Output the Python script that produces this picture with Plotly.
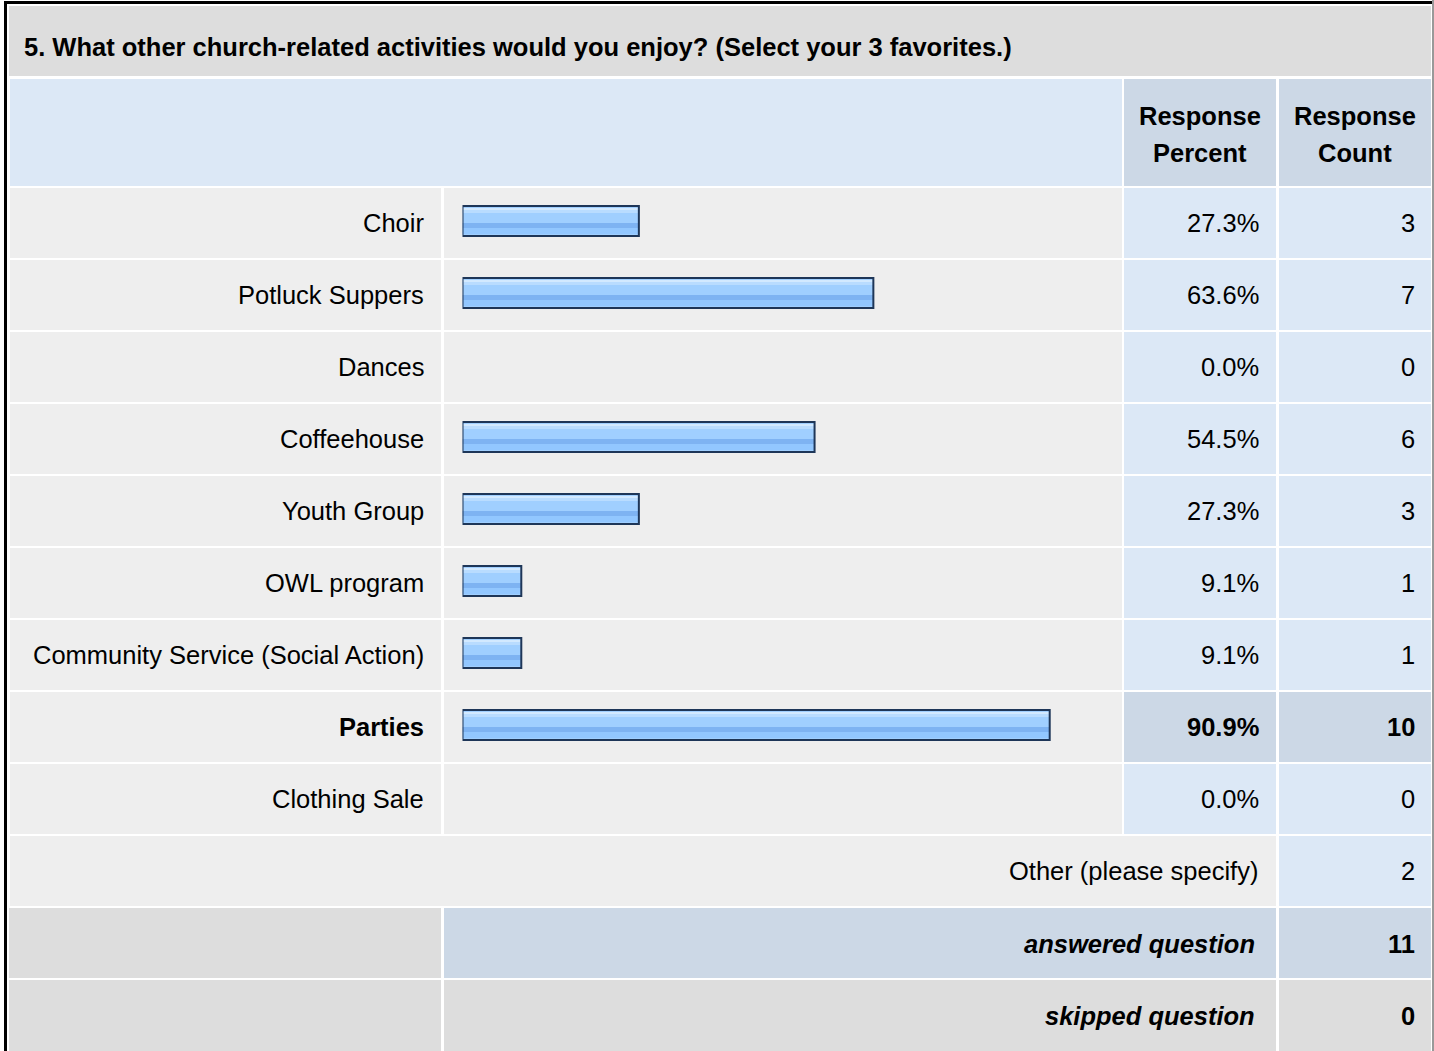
import plotly.graph_objects as go

# ---------------- data ----------------
title_text = "5. What other church-related activities would you enjoy? (Select your 3 favorites.)"
header_percent = ["Response", "Percent"]
header_count = ["Response", "Count"]
categories = ["Choir", "Potluck Suppers", "Dances", "Coffeehouse", "Youth Group",
              "OWL program", "Community Service (Social Action)", "Parties", "Clothing Sale"]
percents = [27.3, 63.6, 0.0, 54.5, 27.3, 9.1, 9.1, 90.9, 0.0]
counts = [3, 7, 0, 6, 3, 1, 1, 10, 0]
other_label = "Other (please specify)"
other_count = 2
answered_label = "answered question"
answered_count = 11
skipped_label = "skipped question"
skipped_count = 0

# ---------------- geometry (pixels) ----------------
W, H = 1434, 1051
FONT = "Arial, 'Liberation Sans', sans-serif"
FS = 25.5
C_TITLE = "#DDDDDD"
C_LBLUE = "#DCE8F6"
C_DBLUE = "#CCD8E6"
C_GREY = "#EEEEEE"
C_DGREY = "#DDDDDD"
PAD = 2  # annotation inner padding compensation

max_idx = percents.index(max(percents))


def px(x):
    return x / W


def py(y):
    return 1 - y / H


shapes = []


def rect(x0, y0, x1, y1, color):
    shapes.append(dict(type="rect", xref="paper", yref="paper",
                       x0=px(x0), x1=px(x1), y0=py(y1), y1=py(y0),
                       fillcolor=color, line=dict(width=0), layer="below"))


# outer borders
rect(4, 1, 1432, 4, "#000000")
rect(4, 1, 7, H, "#000000")
rect(1432, 0, 1434, H, "#999999")

# title row
rect(9, 6, 1431, 76, C_TITLE)
# header row
rect(10, 79, 1122, 186, C_LBLUE)
rect(1124, 79, 1276, 186, C_DBLUE)
rect(1279, 79, 1431, 186, C_DBLUE)

ROW0, PITCH, RH = 188, 72, 70
for i in range(len(categories)):
    t = ROW0 + PITCH * i
    b = t + RH
    rect(10, t, 441, b, C_GREY)
    rect(444, t, 1122, b, C_GREY)
    hl = (i == max_idx)
    rect(1124, t, 1276, b, C_DBLUE if hl else C_LBLUE)
    rect(1279, t, 1431, b, C_DBLUE if hl else C_LBLUE)

# other row
i = len(categories)
t = ROW0 + PITCH * i
rect(10, t, 1276, t + RH, C_GREY)
rect(1279, t, 1431, t + RH, C_LBLUE)
# answered row
t = ROW0 + PITCH * (i + 1)
rect(9, t, 441, t + RH, C_DGREY)
rect(444, t, 1276, t + RH, C_DBLUE)
rect(1279, t, 1431, t + RH, C_DBLUE)
# skipped row
t = ROW0 + PITCH * (i + 2)
rect(9, t, 441, H, C_DGREY)
rect(444, t, 1276, H, C_DGREY)
rect(1279, t, 1431, H, C_DGREY)

# ---------------- annotations ----------------
annotations = []


def txt(x, y, s, anchor="right", bold=False, italic=False, size=FS):
    if anchor == "right":
        x += PAD
    elif anchor == "left":
        x -= PAD
    annotations.append(dict(x=px(x), y=py(y), xref="paper", yref="paper", text=s,
                            showarrow=False, xanchor=anchor, yanchor="middle",
                            align="center" if anchor == "center" else anchor,
                            font=dict(family=FONT, size=size, color="#000000",
                                      weight="bold" if bold else "normal",
                                      style="italic" if italic else "normal")))


txt(24, 47, title_text, anchor="left", bold=True)
for k, line in enumerate(header_percent):
    txt(1200, 116 + 37 * k, line, anchor="center", bold=True)
for k, line in enumerate(header_count):
    txt(1355, 116 + 37 * k, line, anchor="center", bold=True)

for i, (c, p, n) in enumerate(zip(categories, percents, counts)):
    yc = ROW0 + PITCH * i + 35
    hl = (i == max_idx)
    txt(424, yc, c, bold=hl)
    txt(1259, yc, f"{p:.1f}%", bold=hl)
    txt(1415, yc, str(n), bold=hl)

yc = ROW0 + PITCH * len(categories) + 35
txt(1258, yc, other_label)
txt(1415, yc, str(other_count))
yc += PITCH + 1
txt(1255, yc, answered_label, bold=True, italic=True)
txt(1415, yc, str(answered_count), bold=True)
yc += PITCH
txt(1255, yc, skipped_label, bold=True, italic=True)
txt(1415, yc, str(skipped_count), bold=True)

# ---------------- bars ----------------
rows = list(range(len(categories)))
bar_vals = [p if p > 0 else None for p in percents]
U = 1 / PITCH  # one pixel in row units

fig = go.Figure()
layers = [  # (offset px from row centre, height px, fill colour, outline)
    (-17, 30, "#A0CFFF", False),
    (-15, 2, "#D2E9FF", False),
    (-13, 3, "#B9DCFF", False),
    (0, 5, "#7EB3F2", False),
    (5, 6, "#92C7FF", False),
    (-17, 30, "rgba(0,0,0,0)", True),
]
for off, hgt, col, outline in layers:
    fig.add_trace(go.Bar(
        y=rows, x=bar_vals, orientation="h",
        offset=off * U, width=hgt * U,
        marker=dict(color=col,
                    line=dict(color="#1E3658", width=2 if outline else 0)),
        hoverinfo="skip", showlegend=False))

fig.update_layout(
    width=W, height=H, autosize=False,
    margin=dict(l=0, r=0, t=0, b=0),
    paper_bgcolor="#FFFFFF", plot_bgcolor="rgba(0,0,0,0)",
    barmode="overlay",
    xaxis=dict(domain=[462.5 / W, 1108.5 / W], range=[0, 100], visible=False,
               fixedrange=True),
    yaxis=dict(domain=[0, 1], range=[(H - 223) / PITCH, -223 / PITCH],
               visible=False, fixedrange=True),
    shapes=shapes, annotations=annotations,
)

fig.write_html("out.html", config={"displayModeBar": False},
               post_script="document.body.style.margin='0';document.body.style.overflow='hidden';")
